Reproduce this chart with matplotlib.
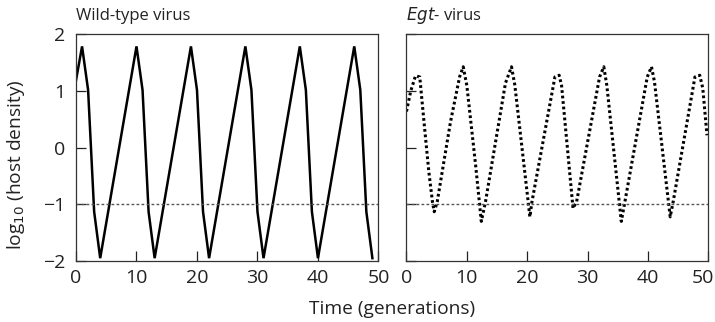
import matplotlib
matplotlib.use("Agg")
import matplotlib.pyplot as plt
from matplotlib.transforms import ScaledTranslation

plt.rcParams['font.family'] = ['Open Sans', 'DejaVu Sans']

# Wild-type virus: log10 host density vs time
wt_time = [0, 1, 2, 3, 4, 10, 11, 12, 13, 19, 20, 21, 22, 28, 29, 30, 31,
           37, 38, 39, 40, 46, 47, 48, 49]
wt_vals = [1.19, 1.79, 1.02, -1.13, -1.95, 1.79, 1.02, -1.13, -1.95,
           1.79, 1.02, -1.13, -1.95, 1.79, 1.02, -1.13, -1.95,
           1.79, 1.02, -1.13, -1.95, 1.79, 1.02, -1.13, -1.95]

# Egt- virus
egt_time = [0.0, 0.7, 1.5, 2.2, 2.9, 3.7, 4.3, 4.6, 5.1, 7.3, 8.8, 9.4, 10.0,
            11.45, 12.4, 13.1, 16.4, 17.4, 17.95, 20.45, 20.8, 24.6, 25.3,
            25.7, 27.6, 28.2, 32.0, 32.7, 33.2, 35.6, 36.2, 39.9, 40.6, 41.1,
            43.7, 44.2, 47.8, 48.6, 49.1, 49.8]
egt_vals = [0.64, 1.0, 1.27, 1.25, 0.46, -0.42, -0.95, -1.13, -0.95, 0.46,
            1.25, 1.43, 1.1, -0.3, -1.30, -0.95, 1.14, 1.43, 1.11, -1.22,
            -0.95, 1.25, 1.28, 1.1, -1.07, -0.95, 1.25, 1.43, 1.1, -1.30,
            -0.95, 1.25, 1.43, 1.16, -1.22, -0.95, 1.25, 1.28, 1.05, 0.22]

threshold = -1
titles = ["Wild-type virus", "$\\it{Egt}$- virus"]
x_ticks = [0, 10, 20, 30, 40, 50]
y_ticks = [-2, -1, 0, 1, 2]
y_ticklabels = ["\u22122", "\u22121", "0", "1", "2"]

fig = plt.figure(figsize=(7.15, 3.22), dpi=100)
ax1 = fig.add_axes([0.1063, 0.1894, 0.423, 0.7035])
ax2 = fig.add_axes([0.5685, 0.1894, 0.422, 0.7035])

ax1.plot(wt_time, wt_vals, color='black', lw=1.8, solid_joinstyle='miter')
ax2.plot(egt_time, egt_vals, color='black', lw=2.2, linestyle=(0, (0.9, 0.9)))

for ax, title in zip((ax1, ax2), titles):
    ax.axhline(threshold, color='#555555', lw=1.0, linestyle=(0, (2, 1.6)))
    ax.set_xlim(0, 50)
    ax.set_ylim(-2, 2)
    ax.set_xticks(x_ticks)
    ax.set_yticks(y_ticks)
    ax.tick_params(direction='in', length=7.5, width=0.9, labelsize=14,
                   color='#222222', labelcolor='#222222')
    ax.tick_params(axis='x', pad=6)
    ax.tick_params(axis='y', pad=8)
    for sp in ax.spines.values():
        sp.set_linewidth(0.9)
        sp.set_color('#333333')
    ax.text(0.0, 1.064, title, transform=ax.transAxes, ha='left', va='baseline',
            fontsize=12, color='#222222')

ax1.set_yticklabels(y_ticklabels)
ax2.set_yticklabels([])

# keep the last tick label of the right panel inside the figure
last = ax2.get_xticklabels()[-1]
last.set_transform(last.get_transform() + ScaledTranslation(-5 / 100, 0, fig.dpi_scale_trans))

fig.text(0.549, 0.024, "Time (generations)", ha='center', va='baseline',
         fontsize=13.8, color='#222222')
fig.text(0.022, 0.487, "log$_{10}$ (host density)", ha='center', va='center',
         rotation=90, fontsize=13.8, color='#222222')

fig.savefig("out.png", dpi=100)
